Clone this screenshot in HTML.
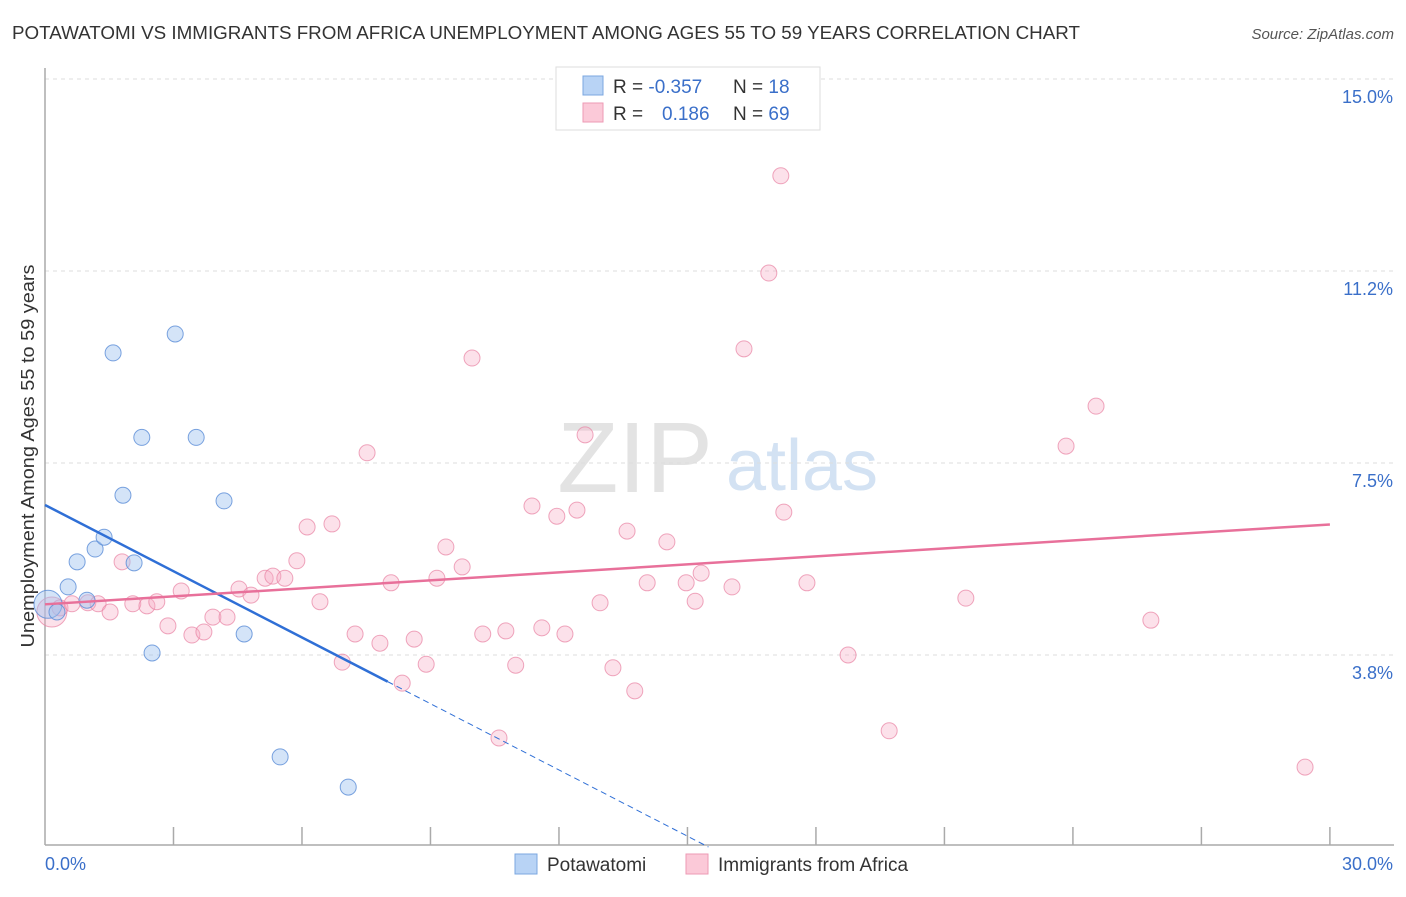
<!DOCTYPE html>
<html><head><meta charset="utf-8"><style>
body{margin:0;background:#fff;font-family:"Liberation Sans",sans-serif}
svg text{font-family:"Liberation Sans",sans-serif}
</style></head><body>
<svg id="c" width="1406" height="892">
<text x="12" y="39" font-size="18" fill="#333" textLength="1068" lengthAdjust="spacingAndGlyphs">POTAWATOMI VS IMMIGRANTS FROM AFRICA UNEMPLOYMENT AMONG AGES 55 TO 59 YEARS CORRELATION CHART</text>
<text x="1394" y="39" font-size="15" fill="#555" font-style="italic" text-anchor="end">Source: ZipAtlas.com</text>
<text x="635" y="492" font-size="100" fill="#e3e3e3" font-family="Liberation Serif" text-anchor="middle">ZIP</text>
<text x="802" y="490" font-size="72" fill="#d3e2f3" text-anchor="middle">atlas</text>
<text transform="translate(34,456) rotate(-90)" font-size="18" fill="#333" text-anchor="middle" textLength="383" lengthAdjust="spacingAndGlyphs">Unemployment Among Ages 55 to 59 years</text>
<g id="grid"></g><g id="marks"></g>
<g>
<rect x="556" y="67" width="264" height="63" fill="#fff" stroke="#ddd"/>
<rect x="583" y="76" width="20" height="19" fill="#b8d3f5" stroke="#7ba7e0"/>
<rect x="583" y="103" width="20" height="19" fill="#fbc9d8" stroke="#ee9ab4"/>
<text x="613" y="93" font-size="19" fill="#333">R = <tspan fill="#3a6fc9">-0.357</tspan></text>
<text x="733" y="93" font-size="19" fill="#333">N = <tspan fill="#3a6fc9"> 18</tspan></text>
<text x="613" y="120" font-size="19" fill="#333">R = <tspan fill="#3a6fc9" x="662">0.186</tspan></text>
<text x="733" y="120" font-size="19" fill="#333">N = <tspan fill="#3a6fc9">69</tspan></text>
</g>
<g>
<rect x="515" y="854" width="22" height="20" fill="#b8d3f5" stroke="#7ba7e0"/>
<text x="547" y="871" font-size="19" fill="#333">Potawatomi</text>
<rect x="686" y="854" width="22" height="20" fill="#fbc9d8" stroke="#ee9ab4"/>
<text x="718" y="871" font-size="19" fill="#333">Immigrants from Africa</text>
</g>
</svg>
<script>
const yTicks=[15,11.25,7.5,3.75];
const yTickLabels=["15.0%","11.2%","7.5%","3.8%"];
const blueX=[0.07,0.28,0.54,0.75,0.98,1.17,1.38,1.59,1.82,2.08,2.26,2.5,3.04,3.53,4.18,4.65,5.49,7.08];
const blueY=[4.74,4.59,5.08,5.57,4.82,5.82,6.05,9.65,6.87,5.55,8.0,3.79,10.02,8.0,6.76,4.16,1.76,1.17];
const pinkX=[0.16,0.35,0.63,1.0,1.24,1.52,1.8,2.05,2.38,2.61,2.87,3.18,3.43,3.71,3.92,4.25,4.53,4.81,5.14,5.32,5.6,5.88,6.12,6.42,6.7,6.94,7.24,7.52,7.82,8.08,8.34,8.62,8.9,9.15,9.36,9.74,9.97,10.22,10.6,10.76,10.99,11.37,11.6,11.95,12.14,12.42,12.61,12.96,13.26,13.59,13.77,14.06,14.52,14.97,15.18,15.32,16.04,16.32,16.9,17.18,17.25,17.79,18.75,19.71,21.5,23.84,24.54,25.82,29.42];
const pinkY=[4.59,4.67,4.75,4.77,4.75,4.59,5.57,4.75,4.71,4.79,4.32,5.0,4.14,4.2,4.49,4.49,5.04,4.92,5.25,5.29,5.25,5.59,6.25,4.79,6.31,3.61,4.16,7.7,3.98,5.16,3.2,4.06,3.57,5.25,5.86,5.47,9.55,4.16,2.13,4.22,3.55,6.66,4.28,6.46,4.16,6.58,8.05,4.77,3.5,6.17,3.05,5.16,5.96,5.16,4.8,5.35,5.08,9.73,11.21,13.11,6.54,5.16,3.75,2.27,4.86,7.83,8.61,4.43,1.56];
const blueTrend=[0,6.68,8.0,3.23], pinkTrend=[0,4.74,30,6.3];
const NS="http://www.w3.org/2000/svg";
const X=v=>45+v*42.83, Y=v=>847-v*51.2;
function mk(p,t,a){const e=document.createElementNS(NS,t);for(const k in a)e.setAttribute(k,a[k]);p.appendChild(e);return e;}
const g=document.getElementById('grid'), m=document.getElementById('marks');
yTicks.forEach((t,i)=>{
 const l=mk(g,'line',{x1:45,x2:1394,y1:Y(t),y2:Y(t),stroke:'#ddd','stroke-dasharray':'4,4'});
 
 
 const tx=mk(g,'text',{x:1393,y:Y(t)+24,'font-size':18,fill:'#3a6fc9','text-anchor':'end'});tx.textContent=yTickLabels[i];
 
 
});
mk(g,'line',{x1:45,x2:45,y1:68,y2:845,stroke:'#aaa','stroke-width':1.5});
mk(g,'line',{x1:45,x2:1394,y1:845,y2:845,stroke:'#aaa','stroke-width':1.5});
for(let i=1;i<=10;i++){mk(g,'line',{x1:X(i*3),x2:X(i*3),y1:827,y2:845,stroke:'#aaa','stroke-width':1.5});}
const x0=mk(g,'text',{x:45,y:870,'font-size':18,fill:'#3a6fc9'});x0.textContent='0.0%';


const x1=mk(g,'text',{x:1393,y:870,'font-size':18,fill:'#3a6fc9','text-anchor':'end'});x1.textContent='30.0%';


pinkX.forEach((v,i)=>{const c=mk(m,'circle',{cx:X(v),cy:Y(pinkY[i]),r:i==0?15:8,fill:'rgba(246,170,195,0.35)',stroke:'rgba(232,130,163,0.7)'});
 
 });
blueX.forEach((v,i)=>{const c=mk(m,'circle',{cx:X(v),cy:Y(blueY[i]),r:i==0?14:8,fill:'rgba(160,195,240,0.45)',stroke:'rgba(90,140,215,0.8)'});
 
 });
const bs=(blueTrend[3]-blueTrend[1])/(blueTrend[2]-blueTrend[0]);
const bl=mk(m,'line',{x1:X(blueTrend[0]),y1:Y(blueTrend[1]),x2:X(blueTrend[2]),y2:Y(blueTrend[3]),stroke:'#2f6fd6','stroke-width':2.5});


const bd=mk(m,'line',{x1:X(blueTrend[2]),y1:Y(blueTrend[3]),x2:X(-blueTrend[1]/bs),y2:Y(0),stroke:'#2f6fd6','stroke-width':1,'stroke-dasharray':'6,4'});


const pl=mk(m,'line',{x1:X(pinkTrend[0]),y1:Y(pinkTrend[1]),x2:X(pinkTrend[2]),y2:Y(pinkTrend[3]),stroke:'#e8709a','stroke-width':2.5});


</script>
</body></html>
